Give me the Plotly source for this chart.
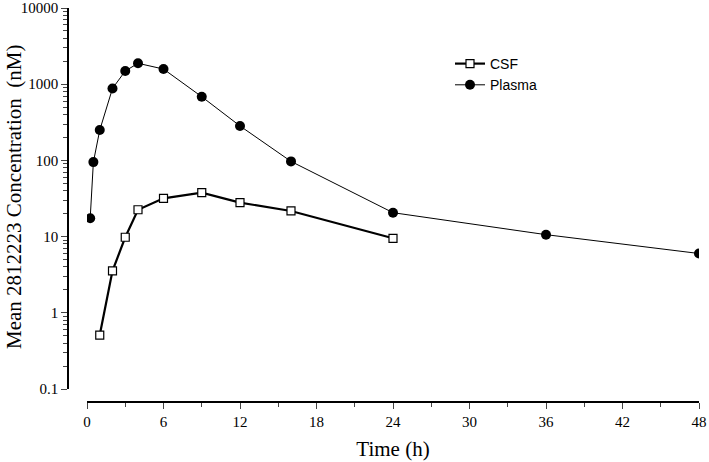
import plotly.graph_objects as go

plasma_time = [0.25, 0.5, 1, 2, 3, 4, 6, 9, 12, 16, 24, 36, 48]
plasma_conc = [17.4, 95, 250, 880, 1490, 1880, 1580, 685, 283, 97, 20.6, 10.6, 6.0]

csf_time = [1, 2, 3, 4, 6, 9, 12, 16, 24]
csf_conc = [0.51, 3.55, 9.8, 22.5, 31.8, 37.7, 27.9, 21.7, 9.5]

x_ticks = [0, 6, 12, 18, 24, 30, 36, 42, 48]
y_ticks = [0.1, 1, 10, 100, 1000, 10000]
y_tick_text = ["0.1", "1", "10", "100", "1000", "10000"]

W, H = 709, 462
L, R, T, B = 68, 10, 8, 60
pw = W - L - R
ph = H - T - B

fig = go.Figure()
fig.add_trace(go.Scatter(
    x=csf_time, y=csf_conc, name="CSF", mode="lines+markers",
    line=dict(color="black", width=2.2),
    marker=dict(symbol="square", size=8, color="white", line=dict(color="black", width=1.2)),
))
fig.add_trace(go.Scatter(
    x=plasma_time, y=plasma_conc, name="Plasma", mode="lines+markers",
    line=dict(color="black", width=1),
    marker=dict(symbol="circle", size=10, color="black", line=dict(color="black", width=0)),
))

x0_px = 87
y0_px = 389
fig.update_layout(
    width=W, height=H,
    margin=dict(l=L, r=R, t=T, b=B, autoexpand=False),
    paper_bgcolor="white", plot_bgcolor="white",
    font=dict(family="Liberation Serif", color="black"),
    showlegend=True,
    legend=dict(
        x=(450 - L) / pw, y=(402 - 48) / ph, xanchor="left", yanchor="top",
        font=dict(family="Liberation Sans", size=14, color="black"),
        bgcolor="rgba(0,0,0,0)", itemwidth=30, tracegroupgap=0,
    ),
    xaxis=dict(
        domain=[(x0_px - L) / pw, 1], range=[0, 48],
        anchor="free", position=0, automargin=False,
        tickvals=x_ticks, ticks="outside", ticklen=6, tickwidth=1.2,
        showline=True, linecolor="black", linewidth=1.5,
        showgrid=False, zeroline=False,
        tickfont=dict(size=15, family="Liberation Serif"),
        minor=dict(ticks="outside", ticklen=4, tickwidth=1, dtick=3, tick0=0, showgrid=False),
        title=dict(text="Time (h)", font=dict(size=21, family="Liberation Serif"), standoff=12),
    ),
    yaxis=dict(
        type="log", domain=[(402 - y0_px) / ph, 1], range=[-1, 4],
        anchor="free", position=0, automargin=False,
        tickvals=y_ticks, ticktext=y_tick_text, ticks="outside", ticklen=6, tickwidth=1.2,
        showline=True, linecolor="black", linewidth=1.5,
        showgrid=False, zeroline=False,
        tickfont=dict(size=15, family="Liberation Serif"),
        minor=dict(ticks="outside", ticklen=4, tickwidth=1, dtick="D1", showgrid=False),
    ),
    annotations=[dict(
        text="Mean 2812223 Concentration\u00a0\u00a0(nM)",
        xref="paper", yref="paper",
        x=(14 - L) / pw, y=(402 - 197) / ph,
        xanchor="center", yanchor="middle", textangle=-90, showarrow=False,
        font=dict(size=21, family="Liberation Serif", color="black"),
    )],
)

fig.write_html("out.html", config={"displayModeBar": False},
               post_script="document.body.style.margin='0';document.body.style.overflow='hidden';")
